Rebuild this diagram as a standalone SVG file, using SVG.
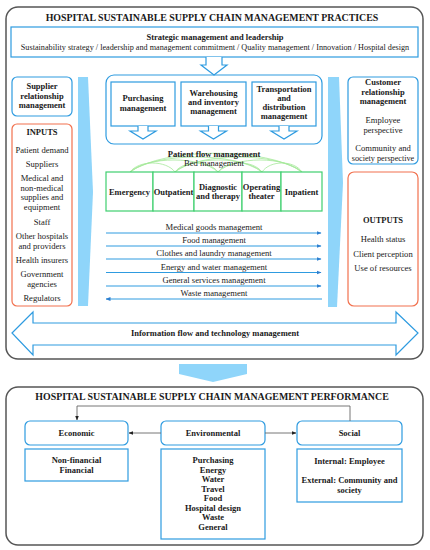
<svg xmlns="http://www.w3.org/2000/svg" width="430" height="550" viewBox="0 0 430 550">
<defs>
<style>
text{font-family:"Liberation Serif","Times New Roman",serif;fill:#1a1a1a;text-anchor:middle;}
.t{font-size:9.9px;font-weight:bold;}
.b{font-size:8.5px;font-weight:bold;}
.r{font-size:8.6px;}
.s{font-size:8.2px;}
.outer{fill:#fff;stroke:#555;stroke-width:1.5;}
.blue{fill:#fff;stroke:#2e9be0;stroke-width:1.2;}
.orange{fill:#fff;stroke:#f2714e;stroke-width:1.2;}
.green{fill:#fff;stroke:#3fcf6f;stroke-width:1.2;}
.bar{fill:#8fd5fa;stroke:none;}
.flow{stroke:#2e9be0;stroke-width:1;fill:none;}
.arc{stroke:#a6e89a;stroke-width:0.8;fill:none;}
.gray{stroke:#666;stroke-width:0.9;fill:none;}
</style>
<marker id="ab" viewBox="0 0 10 10" refX="9" refY="5" markerWidth="5" markerHeight="5" orient="auto-start-reverse"><path d="M0,1 L10,5 L0,9 Z" fill="#2e7fd0"/></marker>
<marker id="ag" viewBox="0 0 10 10" refX="9" refY="5" markerWidth="5" markerHeight="5" orient="auto-start-reverse"><path d="M0,1 L10,5 L0,9 Z" fill="#222"/></marker>
</defs>
<rect width="430" height="550" fill="#fff"/>

<g id="practices">
<rect class="outer" x="6" y="7" width="417" height="352" rx="12"/>
<text class="t" x="212" y="21">HOSPITAL SUSTAINABLE SUPPLY CHAIN MANAGEMENT PRACTICES</text>
</g>

<g id="strategic">
<rect class="blue" x="11" y="27" width="407" height="30"/>
<text class="b" x="215" y="40">Strategic management and leadership</text>
<text class="s" x="215" y="50">Sustainability strategy / leadership and management commitment / Quality management / Innovation / Hospital design</text>
</g>

<g id="bars">
<polygon class="bar" points="78,77 88,77 93,192 88,306 78,306"/>
<polygon class="bar" points="328,77 339,77 343,183 337,307 328,307"/>
</g>

<g id="logistics">
<rect class="blue" x="106" y="75" width="216" height="69" rx="8"/>
</g>
<g id="purchasing">
<rect class="blue" x="111" y="82" width="64" height="44"/>
<text class="b" x="143" y="101">Purchasing</text>
<text class="b" x="143" y="111">management</text>
</g>
<g id="warehousing">
<rect class="blue" x="181" y="82" width="65" height="44"/>
<text class="b" x="213.5" y="96">Warehousing</text>
<text class="b" x="213.5" y="105">and inventory</text>
<text class="b" x="213.5" y="114">management</text>
</g>
<g id="transportation">
<rect class="blue" x="252" y="82" width="64" height="44"/>
<text class="b" x="284" y="92">Transportation</text>
<text class="b" x="284" y="101">and</text>
<text class="b" x="284" y="110">distribution</text>
<text class="b" x="284" y="119">management</text>
</g>

<g id="supplier">
<rect class="blue" x="12" y="77" width="60" height="39" rx="5"/>
<text class="b" x="42" y="89">Supplier</text>
<text class="b" x="42" y="98.5">relationship</text>
<text class="b" x="42" y="108">management</text>
</g>

<g id="inputs">
<rect class="orange" x="12" y="124" width="60" height="182" rx="5"/>
<text class="b" x="42" y="135">INPUTS</text>
<text class="r" x="42" y="153">Patient demand</text>
<text class="r" x="42" y="167">Suppliers</text>
<text class="r" x="42" y="181">Medical and</text>
<text class="r" x="42" y="190.5">non-medical</text>
<text class="r" x="42" y="200">supplies and</text>
<text class="r" x="42" y="209.5">equipment</text>
<text class="r" x="42" y="225">Staff</text>
<text class="r" x="42" y="239">Other hospitals</text>
<text class="r" x="42" y="248.5">and providers</text>
<text class="r" x="42" y="263">Health insurers</text>
<text class="r" x="42" y="277">Government</text>
<text class="r" x="42" y="286.5">agencies</text>
<text class="r" x="42" y="301">Regulators</text>
</g>

<g id="customer">
<rect class="blue" x="348" y="77" width="70" height="87" rx="5"/>
<text class="b" x="383" y="85">Customer</text>
<text class="b" x="383" y="94.5">relationship</text>
<text class="b" x="383" y="104">management</text>
<text class="r" x="383" y="123">Employee</text>
<text class="r" x="383" y="132.5">perspective</text>
<text class="r" x="383" y="151">Community and</text>
<text class="s" x="383" y="160.5">society perspective</text>
</g>

<g id="outputs">
<rect class="orange" x="348" y="172" width="70" height="134" rx="6"/>
<text class="b" x="383" y="223">OUTPUTS</text>
<text class="r" x="383" y="242">Health status</text>
<text class="r" x="383" y="256.5">Client perception</text>
<text class="r" x="383" y="271">Use of resources</text>
</g>

<g id="patient-flow">
<g class="arc">
<path d="M130,172 C139,160 166,160 175,172"/>
<path d="M130,172 C147,156 201,156 218,172"/>
<path d="M130,172 C156,152 236,152 262,172"/>
<path d="M130,172 C164,147 268,147 302,172"/>
<path d="M175,172 C184,160 209,160 218,172"/>
<path d="M175,172 C192,156 245,156 262,172"/>
<path d="M175,172 C200,152 277,152 302,172"/>
<path d="M218,172 C227,160 253,160 262,172"/>
<path d="M218,172 C235,156 285,156 302,172"/>
<path d="M262,172 C270,160 294,160 302,172"/>
</g>
<text class="b" x="214" y="157">Patient flow management</text>
<text class="r" x="214" y="166">Bed management</text>
</g>
<g id="emergency">
<rect class="green" x="106" y="172" width="47" height="39"/>
<text class="b" x="129.5" y="195">Emergency</text>
</g>
<g id="outpatient">
<rect class="green" x="153" y="172" width="41" height="39"/>
<text class="b" x="173.5" y="195">Outpatient</text>
</g>
<g id="diagnostic">
<rect class="green" x="194" y="172" width="48" height="39"/>
<text class="b" x="218" y="189.5">Diagnostic</text>
<text class="b" x="218" y="199">and therapy</text>
</g>
<g id="operating">
<rect class="green" x="242" y="172" width="39" height="39"/>
<text class="b" x="261.5" y="189.5">Operating</text>
<text class="b" x="261.5" y="199">theater</text>
</g>
<g id="inpatient">
<rect class="green" x="281" y="172" width="41" height="39"/>
<text class="b" x="301.5" y="195">Inpatient</text>
</g>

<g id="flow-labels">
<text class="r" x="214" y="230">Medical goods management</text>
<text class="r" x="214" y="243">Food management</text>
<text class="r" x="214" y="256">Clothes and laundry management</text>
<text class="r" x="214" y="269.5">Energy and water management</text>
<text class="r" x="214" y="283">General services management</text>
<text class="r" x="214" y="296">Waste management</text>
</g>

<g id="information-flow">
<path class="blue" d="M12,333 L33,312 V323 H396 V312 L418,333 L396,355 V345 H33 V355 Z"/>
<text class="b" x="215" y="336">Information flow and technology management</text>
</g>

<g id="transition">
<polygon class="bar" points="179,364 247,364 247,374 213,382 179,374"/>
</g>

<g id="performance">
<rect class="outer" x="6" y="387" width="417" height="158" rx="12"/>
<text class="t" x="212" y="400">HOSPITAL SUSTAINABLE SUPPLY CHAIN MANAGEMENT PERFORMANCE</text>
</g>

<g id="economic">
<rect class="blue" x="25" y="421" width="103" height="24" rx="5"/>
<text class="b" x="76.5" y="436">Economic</text>
<rect class="blue" x="25" y="449" width="103" height="32"/>
<text class="b" x="76.5" y="463">Non-financial</text>
<text class="b" x="76.5" y="473">Financial</text>
</g>
<g id="environmental">
<rect class="blue" x="161" y="421" width="104" height="24" rx="5"/>
<text class="b" x="213" y="436">Environmental</text>
<rect class="blue" x="161" y="449" width="104" height="90"/>
<text class="b" x="213" y="463">Purchasing</text>
<text class="b" x="213" y="472.5">Energy</text>
<text class="b" x="213" y="482">Water</text>
<text class="b" x="213" y="491.5">Travel</text>
<text class="b" x="213" y="501">Food</text>
<text class="b" x="213" y="510.5">Hospital design</text>
<text class="b" x="213" y="520">Waste</text>
<text class="b" x="213" y="529.5">General</text>
</g>
<g id="social">
<rect class="blue" x="297" y="421" width="105" height="24" rx="5"/>
<text class="b" x="349.5" y="436">Social</text>
<rect class="blue" x="297" y="449" width="105" height="53"/>
<text class="b" x="349.5" y="464">Internal: Employee</text>
<text class="b" x="349.5" y="483">External: Community and</text>
<text class="b" x="349.5" y="492.5">society</text>
</g>

<g id="connectors">
<path class="blue" d="M206,57 V65 H201 L214,75 L227,65 H222 V57"/>
<path class="blue" d="M138,126 V131 H130 L143,139 L156,131 H148 V126"/>
<path class="blue" d="M208.5,126 V131 H200.5 L213.5,139 L226.5,131 H218.5 V126"/>
<path class="blue" d="M279,126 V131 H271 L284,139 L297,131 H289 V126"/>
<line class="flow" x1="106" y1="233" x2="321" y2="233" marker-end="url(#ab)"/>
<line class="flow" x1="106" y1="246" x2="321" y2="246" marker-end="url(#ab)"/>
<line class="flow" x1="106" y1="259" x2="321" y2="259" marker-end="url(#ab)"/>
<line class="flow" x1="106" y1="272.5" x2="321" y2="272.5" marker-end="url(#ab)"/>
<line class="flow" x1="106" y1="286" x2="321" y2="286" marker-end="url(#ab)"/>
<line class="flow" x1="106" y1="299" x2="322" y2="299" marker-start="url(#ab)"/>
<polyline class="gray" points="350,421 350,406 77,406 77,420" marker-end="url(#ag)"/>
<line class="gray" x1="161" y1="433" x2="129" y2="433" marker-end="url(#ag)"/>
<line class="gray" x1="265" y1="433" x2="296" y2="433" marker-end="url(#ag)"/>
</g>
</svg>
